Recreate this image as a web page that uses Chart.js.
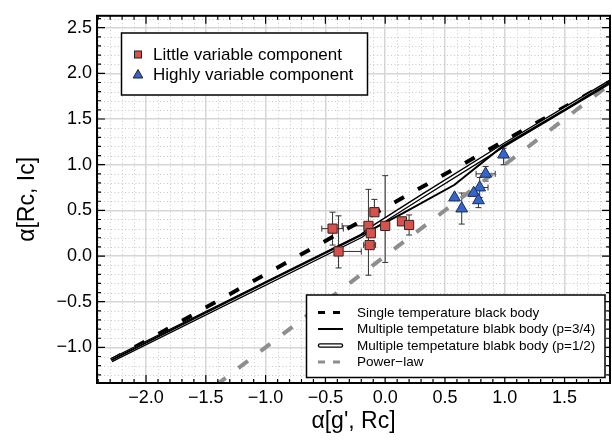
<!DOCTYPE html>
<html>
<head>
<meta charset="utf-8">
<script src="https://cdn.jsdelivr.net/npm/chart.js@4.4.1/dist/chart.umd.min.js"></script>
<style>html,body{margin:0;padding:0;background:#fff}</style>
</head>
<body>
<canvas id="alphaChart" width="612" height="444"></canvas>
<script>
// little variable component (squares)
const redX = [-0.44, -0.39, -0.09, -0.14, -0.12, -0.13, 0.00, 0.14, 0.20];
const redY = [0.30, 0.05, 0.48, 0.33, 0.25, 0.12, 0.33, 0.38, 0.34];
const redXLo = [0.09, 0.00, 0.03, 0.22, 0.00, 0.05, 0.00, 0.00, 0.03];
const redXHi = [0.09, 0.19, 0.03, 0.00, 0.00, 0.05, 0.00, 0.00, 0.03];
const redYLo = [0.18, 0.18, 0.00, 0.54, 0.00, 0.00, 0.40, 0.00, 0.11];
const redYHi = [0.18, 0.39, 0.14, 0.40, 0.00, 0.00, 0.55, 0.00, 0.11];

// highly variable component (triangles)
const blueX = [0.99, 0.84, 0.79, 0.74, 0.78, 0.58, 0.64];
const blueY = [1.11, 0.90, 0.75, 0.69, 0.61, 0.64, 0.52];
const blueXLo = [0.00, 0.08, 0.00, 0.00, 0.00, 0.00, 0.00];
const blueXHi = [0.00, 0.08, 0.07, 0.00, 0.00, 0.00, 0.00];
const blueYLo = [0.11, 0.08, 0.11, 0.00, 0.08, 0.00, 0.17];
const blueYHi = [0.07, 0.08, 0.11, 0.00, 0.00, 0.00, 0.17];

// model curves
const singleX = [-2.29, 0.0, 1.95];
const singleY = [-1.14, 0.53, 1.96];
const p34X = [-2.29, -1.0, -0.2, 0.15, 0.58, 0.98, 1.5, 1.95];
const p34Y = [-1.14, -0.29, 0.23, 0.47, 0.78, 1.20, 1.60, 1.96];
const p12X = [-2.29, -0.2, -0.12, 0.3, 1.0, 1.95];
const p12Y = [-1.14, 0.22, 0.30, 0.65, 1.22, 1.96];
const powerX = [-1.6, 2.0];
const powerY = [-1.6, 2.0];

const xTickLabels = ['\u22122.0', '\u22121.5', '\u22121.0', '\u22120.5', '0.0', '0.5', '1.0', '1.5'];
const yTickLabels = ['\u22121.0', '\u22120.5', '0.0', '0.5', '1.0', '1.5', '2.0', '2.5'];

const pointLabels = ['Little variable component', 'Highly variable component'];
const lineLabels = ['Single temperature black body', 'Multiple tempetature blabk body (p=3/4)',
  'Multiple tempetature blabk body (p=1/2)', 'Power\u2212law'];

const FONT = '"Liberation Sans", Arial, Helvetica, sans-serif';
const RED = '#d6524c';
const BLUE = '#3366cc';
const GREY = '#8e8e8e';

const pts = (xs, ys) => xs.map((x, i) => ({x: x, y: ys[i]}));
const label = v => {
  const s = (Math.abs(v) < 1e-9 ? 0 : v).toFixed(1);
  return s.replace('-', '\u2212');
};

const errorBars = (chart, xs, ys, xl, xh, yl, yh) => {
  const {ctx, scales: {x, y}} = chart;
  ctx.save();
  ctx.strokeStyle = '#333';
  ctx.lineWidth = 1;
  xs.forEach((v, i) => {
    const px = x.getPixelForValue(v), py = y.getPixelForValue(ys[i]);
    ctx.beginPath();
    if (xl[i] || xh[i]) {
      const a = x.getPixelForValue(v - xl[i]), b = x.getPixelForValue(v + xh[i]);
      ctx.moveTo(a, py); ctx.lineTo(b, py);
      if (xl[i]) { ctx.moveTo(a, py - 3); ctx.lineTo(a, py + 3); }
      if (xh[i]) { ctx.moveTo(b, py - 3); ctx.lineTo(b, py + 3); }
    }
    if (yl[i] || yh[i]) {
      const a = y.getPixelForValue(ys[i] - yl[i]), b = y.getPixelForValue(ys[i] + yh[i]);
      ctx.moveTo(px, a); ctx.lineTo(px, b);
      if (yl[i]) { ctx.moveTo(px - 3, a); ctx.lineTo(px + 3, a); }
      if (yh[i]) { ctx.moveTo(px - 3, b); ctx.lineTo(px + 3, b); }
    }
    ctx.stroke();
  });
  ctx.restore();
};

const framePlugin = {
  id: 'frame',
  beforeDatasetsDraw(chart) {
    const {ctx, chartArea: a, scales: {x, y}} = chart;
    ctx.save();
    ctx.strokeStyle = '#c8c8c8';
    ctx.lineWidth = 1;
    ctx.setLineDash([1, 2.5]);
    ctx.beginPath();
    for (let i = Math.ceil(x.min * 10); i <= Math.floor(x.max * 10); i++) {
      if (i % 5 === 0) continue;
      const px = Math.round(x.getPixelForValue(i / 10)) + 0.5;
      ctx.moveTo(px, a.top); ctx.lineTo(px, a.bottom);
    }
    for (let i = Math.ceil(y.min * 10); i <= Math.floor(y.max * 10); i++) {
      if (i % 5 === 0) continue;
      const py = Math.round(y.getPixelForValue(i / 10)) + 0.5;
      ctx.moveTo(a.left, py); ctx.lineTo(a.right, py);
    }
    ctx.stroke();
    ctx.restore();
    errorBars(chart, redX, redY, redXLo, redXHi, redYLo, redYHi);
    errorBars(chart, blueX, blueY, blueXLo, blueXHi, blueYLo, blueYHi);
  },
  afterDatasetsDraw(chart) {
    const {ctx, chartArea: a, scales: {x, y}} = chart;
    ctx.save();
    // inward ticks on all four sides
    ctx.strokeStyle = '#000';
    ctx.lineWidth = 1.2;
    ctx.beginPath();
    for (let i = Math.ceil(x.min * 10); i <= Math.floor(x.max * 10); i++) {
      const px = x.getPixelForValue(i / 10), len = i % 5 === 0 ? 8 : 4;
      ctx.moveTo(px, a.bottom); ctx.lineTo(px, a.bottom - len);
      ctx.moveTo(px, a.top); ctx.lineTo(px, a.top + len);
    }
    for (let i = Math.ceil(y.min * 10); i <= Math.floor(y.max * 10); i++) {
      const py = y.getPixelForValue(i / 10), len = i % 5 === 0 ? 8 : 4;
      ctx.moveTo(a.left, py); ctx.lineTo(a.left + len, py);
      ctx.moveTo(a.right, py); ctx.lineTo(a.right - len, py);
    }
    ctx.stroke();
    ctx.lineWidth = 2;
    ctx.strokeRect(a.left, a.top, a.right - a.left, a.bottom - a.top);

    // legend for the points
    ctx.fillStyle = '#fff';
    ctx.lineWidth = 1.5;
    ctx.fillRect(121.5, 33, 246, 62);
    ctx.strokeRect(121.5, 33, 246, 62);
    ctx.lineWidth = 1;
    ctx.fillStyle = RED;
    ctx.fillRect(134.5, 51, 7, 7);
    ctx.strokeStyle = '#222';
    ctx.strokeRect(134.5, 51, 7, 7);
    ctx.fillStyle = BLUE;
    ctx.beginPath();
    ctx.moveTo(138, 69.5); ctx.lineTo(142.8, 78); ctx.lineTo(133.2, 78); ctx.closePath();
    ctx.fill(); ctx.stroke();
    ctx.fillStyle = '#000';
    ctx.font = '17px ' + FONT;
    ctx.textBaseline = 'middle';
    ctx.fillText(pointLabels[0], 153, 55);
    ctx.fillText(pointLabels[1], 153, 75);

    // legend for the curves
    ctx.fillStyle = '#fff';
    ctx.strokeStyle = '#000';
    ctx.lineWidth = 1.5;
    ctx.fillRect(306.5, 295, 298.5, 82.5);
    ctx.strokeRect(306.5, 295, 298.5, 82.5);
    const rows = [312.5, 329, 345.5, 362];
    ctx.lineWidth = 3;
    ctx.setLineDash([7, 8]);
    ctx.beginPath(); ctx.moveTo(318, rows[0]); ctx.lineTo(343, rows[0]); ctx.stroke();
    ctx.strokeStyle = GREY;
    ctx.beginPath(); ctx.moveTo(318, rows[3]); ctx.lineTo(343, rows[3]); ctx.stroke();
    ctx.setLineDash([]);
    ctx.strokeStyle = '#000';
    ctx.lineWidth = 2;
    ctx.beginPath(); ctx.moveTo(318, rows[1]); ctx.lineTo(343, rows[1]); ctx.stroke();
    ctx.lineCap = 'round';
    ctx.lineWidth = 4.5;
    ctx.beginPath(); ctx.moveTo(320, rows[2]); ctx.lineTo(341, rows[2]); ctx.stroke();
    ctx.strokeStyle = '#fff';
    ctx.lineWidth = 1.8;
    ctx.beginPath(); ctx.moveTo(320, rows[2]); ctx.lineTo(341, rows[2]); ctx.stroke();
    ctx.fillStyle = '#000';
    ctx.font = '13.5px ' + FONT;
    lineLabels.forEach((t, i) => ctx.fillText(t, 357, rows[i] + 0.5));
    ctx.restore();
  }
};

const ctx = document.getElementById('alphaChart').getContext('2d');
const alphaChart = new Chart(ctx, {
  type: 'scatter',
  data: {
    datasets: [
      {
        label: pointLabels[0],
        data: pts(redX, redY),
        pointStyle: 'rect',
        pointRadius: 6.5,
        backgroundColor: RED,
        borderColor: '#3a2222',
        borderWidth: 1
      },
      {
        label: pointLabels[1],
        data: pts(blueX, blueY),
        pointStyle: 'triangle',
        pointRadius: 6.8,
        backgroundColor: BLUE,
        borderColor: '#1c2a55',
        borderWidth: 1
      },
      {
        label: lineLabels[1],
        data: pts(p34X, p34Y),
        showLine: true,
        pointRadius: 0,
        borderColor: '#000',
        borderWidth: 2
      },
      {
        label: lineLabels[2],
        data: pts(p12X, p12Y),
        showLine: true,
        pointRadius: 0,
        borderColor: '#fff',
        borderWidth: 1.8
      },
      {
        label: lineLabels[2],
        data: pts(p12X, p12Y),
        showLine: true,
        pointRadius: 0,
        borderColor: '#000',
        borderWidth: 4.5
      },
      {
        label: lineLabels[0],
        data: pts(singleX, singleY),
        showLine: true,
        pointRadius: 0,
        borderColor: '#000',
        borderWidth: 4,
        borderDash: [11, 16]
      },
      {
        label: lineLabels[3],
        data: pts(powerX, powerY),
        showLine: true,
        pointRadius: 0,
        borderColor: GREY,
        borderWidth: 4,
        borderDash: [12, 16]
      }
    ]
  },
  options: {
    responsive: false,
    animation: false,
    devicePixelRatio: 1,
    layout: {autoPadding: false, padding: {top: 11, right: 2, left: 0, bottom: 0}},
    plugins: {
      legend: {display: false},
      tooltip: {enabled: false}
    },
    scales: {
      x: {
        type: 'linear',
        min: -2.41,
        max: 1.88,
        afterFit: s => { s.height = 61; },
        ticks: {
          stepSize: 0.5,
          includeBounds: false,
          padding: 4,
          color: '#000',
          font: {family: FONT, size: 18},
          callback: v => xTickLabels.includes(label(v)) ? label(v) : ''
        },
        grid: {color: '#d6d6d6', lineWidth: 1.5, drawTicks: false},
        border: {color: '#000', width: 2},
        title: {
          display: true,
          text: "\u03b1[g', Rc]",
          color: '#000',
          font: {family: FONT, size: 23},
          padding: {top: 0, bottom: 9}
        }
      },
      y: {
        type: 'linear',
        min: -1.39,
        max: 2.63,
        afterFit: s => { s.width = 97; },
        ticks: {
          stepSize: 0.5,
          includeBounds: false,
          padding: 5,
          color: '#000',
          font: {family: FONT, size: 18},
          callback: v => yTickLabels.includes(label(v)) ? label(v) : ''
        },
        grid: {color: '#d6d6d6', lineWidth: 1.5, drawTicks: false},
        border: {color: '#000', width: 2},
        title: {
          display: true,
          text: '\u03b1[Rc, Ic]',
          color: '#000',
          font: {family: FONT, size: 23},
          padding: {top: 14, bottom: 0}
        }
      }
    }
  },
  plugins: [framePlugin]
});
</script>
</body>
</html>
